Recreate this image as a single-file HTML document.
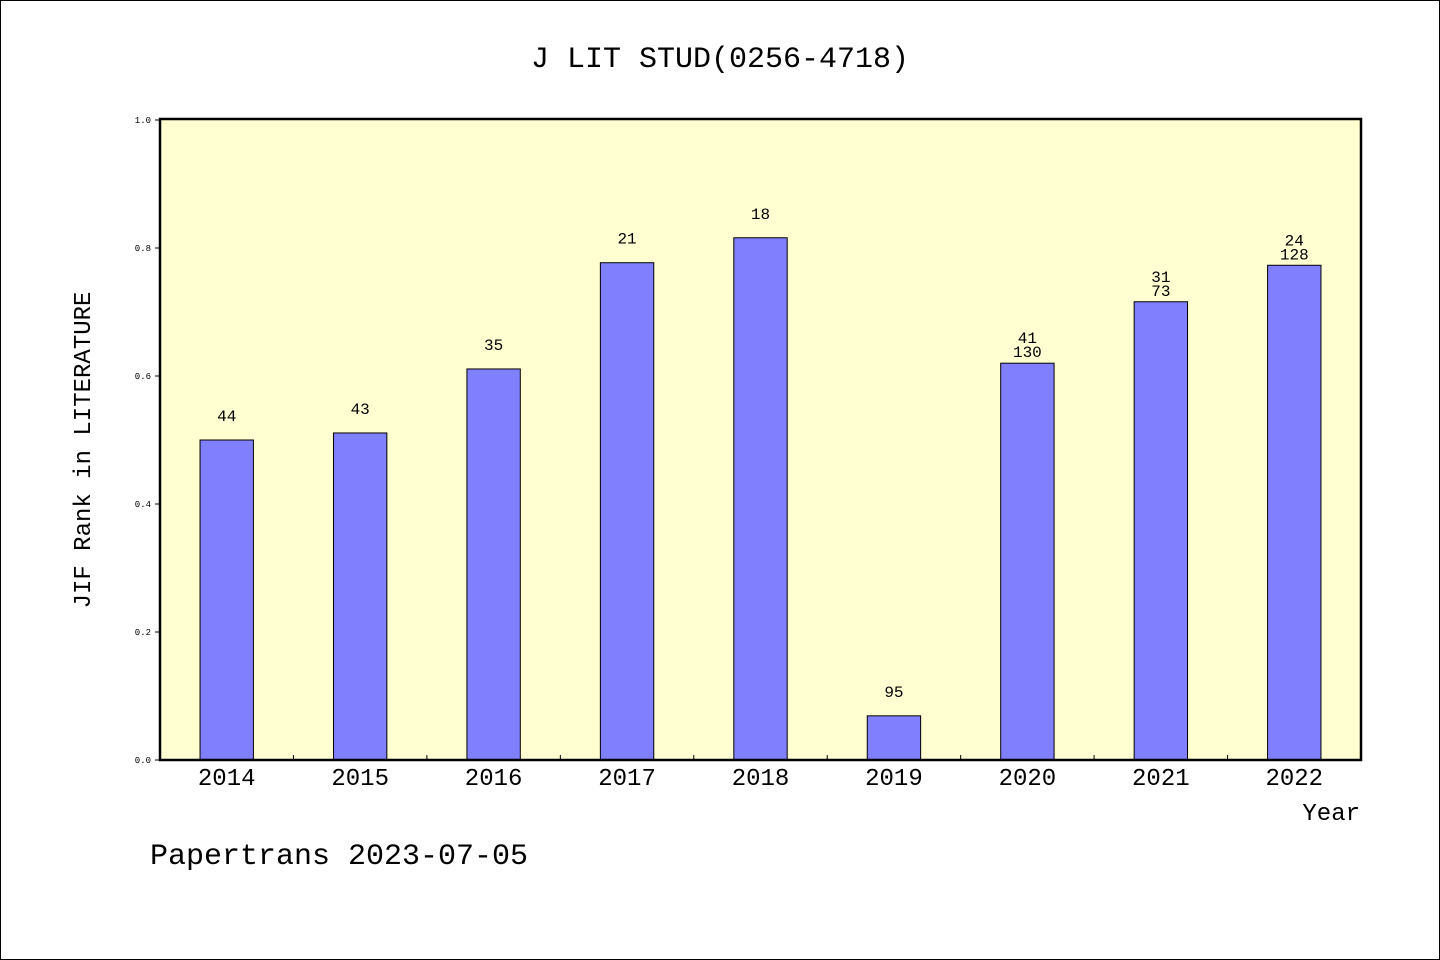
<!DOCTYPE html>
<html><head><meta charset="utf-8"><style>
html,body{margin:0;padding:0;background:#fff}
svg{display:block}
text{font-family:"Liberation Mono","WenQuanYi Zen Hei",monospace;fill:#000}
</style></head><body>
<svg id="chart" width="1440" height="960" xmlns="http://www.w3.org/2000/svg">
<rect x="0.5" y="0.5" width="1439" height="959" fill="#fff" stroke="#000"/>
<text x="720" y="67" font-size="30" text-anchor="middle">J LIT STUD(0256-4718)</text>
<rect x="160" y="119" width="1201" height="641" fill="#ffffd2"/>
<g id="bars"></g>
<rect x="160" y="119" width="1201" height="641" fill="none" stroke="#000" stroke-width="2.5"/>
<g id="axes"></g>
<text x="90" y="450" font-size="24" text-anchor="middle" transform="rotate(-90 90 450)">JIF Rank in LITERATURE</text>
<text x="1360" y="820" font-size="24" text-anchor="end">Year</text>
<text x="150" y="864" font-size="30">Papertrans 2023-07-05</text>
</svg>
<script>
const categories=["2014","2015","2016","2017","2018","2019","2020","2021","2022"];
const values=[0.500,0.511,0.611,0.777,0.816,0.069,0.620,0.716,0.773];
const topLabels=["44","43","35","21","18","95","41","31","24"];
const bottomLabels=["","","","","","","130","73","128"];
const yTicks=[0,0.2,0.4,0.6,0.8,1.0];
const tickLabels=["0.0","0.2","0.4","0.6","0.8","1.0"];
const NS="http://www.w3.org/2000/svg";
const X0=160,X1=1361,Y0=760,Y1=120;
const band=(X1-X0)/categories.length;
const xC=i=>X0+band*(i+0.5);
const y=v=>Y0-(Y1-Y0)*-v;
function mk(tag,attrs,parent){const e=document.createElementNS(NS,tag);for(const k in attrs)e.setAttribute(k,attrs[k]);parent.appendChild(e);return e;}
const gb=document.getElementById('bars'),ga=document.getElementById('axes');
values.forEach((v,i)=>{
 const w=band*0.4;
 const r=mk('rect',{x:xC(i)-w/2,y:y(v),width:w,height:Y0-y(v),fill:'#8080ff',stroke:'#000','stroke-width':1},gb);
 
 
 const two=bottomLabels[i]!=="";
 const t=mk('text',{x:xC(i),y:y(v)-(two?20:19),'font-size':16,'text-anchor':'middle'},gb);
 t.textContent=topLabels[i];
 
 
 if(two){const t2=mk('text',{x:xC(i),y:y(v)-6,'font-size':16,'text-anchor':'middle'},gb);
  t2.textContent=bottomLabels[i];
  
  }
 const xl=mk('text',{x:xC(i),y:785,'font-size':24,'text-anchor':'middle'},ga);
 xl.textContent=categories[i];
 
 
 if(i>0){const tk=mk('line',{x1:X0+band*i,x2:X0+band*i,y1:Y0,y2:Y0-5,stroke:'#000'},ga);
  
  }
});
yTicks.forEach((v,i)=>{
 const l=mk('line',{x1:X0-5,x2:X0,y1:y(v),y2:y(v),stroke:'#000'},ga);
 
 
 const t=mk('text',{x:151,y:y(v)+3,'font-size':9,'text-anchor':'end'},ga);
 t.textContent=tickLabels[i];
 
 
});
</script>
</body></html>
